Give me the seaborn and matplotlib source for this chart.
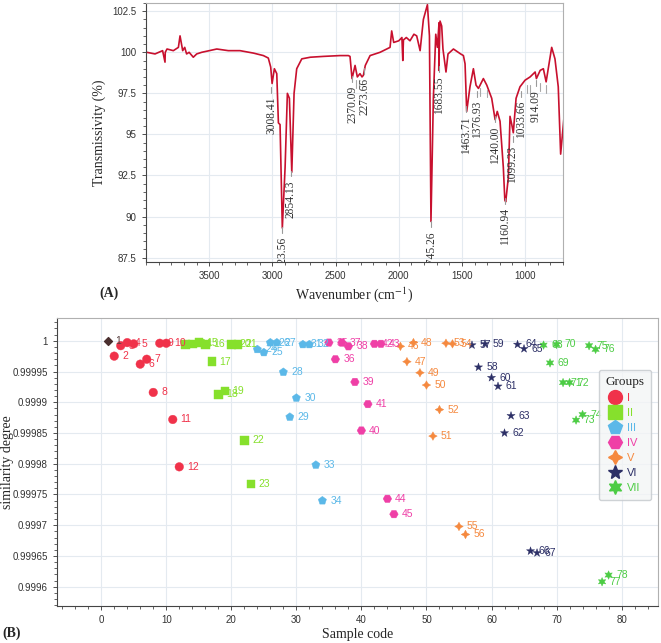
import numpy as np
import pandas as pd
import matplotlib
matplotlib.use("Agg")
import matplotlib.pyplot as plt
import seaborn as sns
from matplotlib.lines import Line2D
from matplotlib.ticker import MultipleLocator, FuncFormatter

# ---- (A) FTIR spectrum ----
wavenumber = [3996, 3930, 3870, 3851, 3849, 3835, 3785, 3745, 3732, 3711, 3695, 3680,
              3660, 3627, 3600, 3560, 3500, 3441, 3350, 3257, 3150, 3072, 3033, 3014,
              3003, 2985, 2966, 2953, 2940, 2922, 2900, 2882, 2866, 2847, 2829, 2808,
              2768, 2700, 2597, 2465, 2399, 2386, 2370, 2346, 2328, 2307, 2291, 2280,
              2265, 2227, 2148, 2069, 2056, 2040, 2000, 1975, 1968, 1963, 1940, 1911,
              1880, 1858, 1831, 1805, 1773, 1757, 1745, 1726, 1707, 1694, 1681, 1683,
              1673, 1660, 1650, 1626, 1610, 1567, 1510, 1488, 1475, 1462, 1436, 1409,
              1388, 1369, 1330, 1303, 1264, 1237, 1220, 1198, 1172, 1160, 1153, 1132,
              1119, 1105, 1093, 1071, 1040, 1000, 960, 920, 910, 880, 855, 833, 810,
              789, 763, 737, 718, 692]
transmissivity = [100.0, 99.9, 100.1, 99.4, 100.0, 100.2, 100.1, 100.3, 101.0, 100.1, 100.3, 99.9,
                  100.0, 99.7, 99.9, 100.0, 100.1, 100.2, 100.1, 100.1, 99.95, 99.8, 99.65, 99.1,
                  98.1, 99.0, 98.7, 95.7, 95.6, 89.3, 93.0, 97.5, 97.2, 92.7, 97.5, 99.0,
                  99.6, 99.7, 99.75, 99.8, 99.8, 99.75, 98.4, 99.2, 98.5, 98.7, 98.5, 98.6,
                  99.2, 99.8, 100.0, 100.3, 101.3, 100.6, 100.7, 100.9, 99.5, 100.75, 100.9, 100.7,
                  101.1, 101.0, 100.1, 102.0, 102.9, 101.0, 89.7, 97.2, 101.1, 100.3, 101.8, 98.9,
                  101.9, 101.6, 100.2, 98.8, 99.9, 100.2, 99.9, 99.8, 99.3, 96.4, 97.9, 99.0,
                  98.0, 97.8, 98.4, 98.0, 97.2, 95.9, 96.4, 95.8, 93.0, 91.0, 90.9, 92.4,
                  96.1, 95.6, 95.1, 97.2, 97.9, 98.3, 98.5, 98.8, 98.4, 98.9, 99.0, 98.2, 99.3,
                  100.3, 99.6, 97.9, 93.8, 96.0]

peak_wn = [3008.41, 2923.56, 2854.13, 2370.09, 2273.66, 1745.26, 1683.55,
           1463.71, 1376.93, 1240.00, 1160.94, 1099.23, 1033.66, 914.09]
peak_label_top = [97.3, 88.75, 92.2, 97.95, 98.45, 89.1, 98.55,
                  96.1, 97.05, 95.5, 90.5, 94.3, 97.05, 97.7]
minor_wn = [2336, 2313, 1356, 1303, 986, 960, 881, 833]
minor_dash_top = [98.3, 98.3, 97.8, 97.7, 98.0, 98.0, 98.1, 98.0]

# ---- (B) similarity degree per sample ----
group_names = ["I", "II", "III", "IV", "V", "VI", "VII"]
group_colors = ["#f0324a", "#86e02c", "#5bb8e8", "#ef3fa6", "#f5893f", "#2c2f66", "#4ccc44"]
group_markers = ["o", "s", "p", "H", (4, 1, 0), "*", (6, 1, 0)]

ref_code = [1]
ref_sim = [1.0]
codes_I = list(range(2, 13))
sim_I = [0.999975, 0.999992, 0.999997, 0.999995, 0.999962, 0.999970, 0.999916,
         0.999996, 0.999996, 0.999872, 0.999795]
codes_II = list(range(13, 24))
sim_II = [0.999994, 0.999995, 0.999997, 0.999994, 0.999966, 0.999913, 0.999918,
          0.999994, 0.999994, 0.999838, 0.999767]
codes_III = list(range(24, 35))
sim_III = [0.999986, 0.999981, 0.999997, 0.999997, 0.999949, 0.999876, 0.999907,
           0.999994, 0.999994, 0.999798, 0.999740]
codes_IV = list(range(35, 46))
sim_IV = [0.999997, 0.999970, 0.999997, 0.999991, 0.999933, 0.999854, 0.999897,
          0.999995, 0.999995, 0.999743, 0.999718]
codes_V = list(range(46, 57))
sim_V = [0.999991, 0.999966, 0.999997, 0.999948, 0.999928, 0.999845, 0.999888,
         0.999996, 0.999995, 0.999698, 0.999685]
codes_VI = list(range(57, 68))
sim_VI = [0.999993, 0.999957, 0.999995, 0.999940, 0.999926, 0.999850, 0.999878,
          0.999994, 0.999987, 0.999658, 0.999655]
codes_VII = list(range(68, 79))
sim_VII = [0.999993, 0.999964, 0.999994, 0.999932, 0.999932, 0.999871, 0.999880,
           0.999992, 0.999986, 0.999608, 0.999619]

all_codes = [codes_I, codes_II, codes_III, codes_IV, codes_V, codes_VI, codes_VII]
all_sims = [sim_I, sim_II, sim_III, sim_IV, sim_V, sim_VI, sim_VII]

rows = []
for name, cs, ss in zip(group_names, all_codes, all_sims):
    for c, s in zip(cs, ss):
        rows.append({"code": c, "sim": s, "group": name})
df = pd.DataFrame(rows)

sns.set_style("ticks")
plt.rcParams["font.family"] = ["Liberation Sans", "DejaVu Sans"]
plt.rcParams["mathtext.fontset"] = "stix"
serif = ["Liberation Serif", "DejaVu Serif"]
grid_col = "#e4eaf0"

fig = plt.figure(figsize=(6.61, 6.43), dpi=100)
ax1 = fig.add_axes([0.2204, 0.593, 0.6318, 0.4023])
ax2 = fig.add_axes([0.0862, 0.0575, 0.9093, 0.4479])

# ---- panel A ----
sns.lineplot(x=wavenumber, y=transmissivity, sort=False, estimator=None,
             color="#c8102e", lw=1.2, ax=ax1)
for wn, top in zip(peak_wn, peak_label_top):
    ax1.plot([wn, wn], [top + 0.25, top + 0.6], color="#9a9a9a", lw=0.8)
    ax1.text(wn, top, f"{wn:.2f}", rotation=90, ha="center", va="top",
             fontsize=8.3, family=serif, color="#333333", clip_on=True)
for wn, top in zip(minor_wn, minor_dash_top):
    ax1.plot([wn, wn], [top - 0.45, top], color="#a8a8a8", lw=0.8)

ax1.set_xlim(4004, 697)
ax1.set_ylim(87.25, 103.0)
ax1.set_yticks([87.5, 90, 92.5, 95, 97.5, 100, 102.5])
ax1.yaxis.set_major_formatter(FuncFormatter(lambda v, p: f"{v:g}"))
ax1.set_xticks([3500, 3000, 2500, 2000, 1500, 1000])
ax1.xaxis.set_minor_locator(MultipleLocator(100))
ax1.yaxis.set_minor_locator(MultipleLocator(0.5))
ax1.grid(True, which="major", color=grid_col, lw=0.8)
ax1.set_axisbelow(True)
ax1.tick_params(labelsize=7, length=3, width=0.6, colors="#333333")
ax1.tick_params(which="minor", length=2, width=0.5)
for side in ["top", "right"]:
    ax1.spines[side].set_visible(True)
    ax1.spines[side].set_color("#b0b0b0")
for side in ["left", "bottom"]:
    ax1.spines[side].set_color("#444444")
ax1.set_ylabel("Transmissivity (%)", family=serif, fontsize=10)
ax1.yaxis.set_label_coords(-0.095, 0.5)
ax1.set_xlabel("Wavenumber (cm$^{-1}$)", family=serif, fontsize=10)
ax1.xaxis.set_label_coords(0.5, -0.09)

# ---- panel B ----
sns.scatterplot(data=df, x="code", y="sim", hue="group", style="group",
                hue_order=group_names, style_order=group_names,
                palette=dict(zip(group_names, group_colors)),
                markers=dict(zip(group_names, group_markers)),
                s=38, edgecolor="face", linewidth=0.3, legend=False, ax=ax2)
ax2.scatter(ref_code, ref_sim, marker="D", s=16, color="#4a2f2f", zorder=3)
ax2.text(ref_code[0] + 1.1, ref_sim[0], "1", fontsize=7.5, color="#5a4040", va="center")
for name, color, cs, ss in zip(group_names, group_colors, all_codes, all_sims):
    for c, s in zip(cs, ss):
        ax2.text(c + 1.2, s, str(c), fontsize=7.5, color=color, va="center")

ax2.set_xlim(-6.8, 85.6)
ax2.set_ylim(0.9995686, 1.000037)
ax2.set_xticks(range(0, 90, 10))
ax2.set_yticks([0.9996, 0.99965, 0.9997, 0.99975, 0.9998, 0.99985, 0.9999, 0.99995, 1.0])
ax2.yaxis.set_major_formatter(FuncFormatter(lambda v, p: f"{round(v, 5):g}"))
ax2.xaxis.set_minor_locator(MultipleLocator(2))
ax2.yaxis.set_minor_locator(MultipleLocator(0.00001))
ax2.grid(True, which="major", color=grid_col, lw=0.8)
ax2.set_axisbelow(True)
ax2.tick_params(labelsize=7, length=3, width=0.6, colors="#333333")
ax2.tick_params(which="minor", length=2, width=0.5)
for side in ["top", "right"]:
    ax2.spines[side].set_visible(True)
    ax2.spines[side].set_color("#b0b0b0")
for side in ["left", "bottom"]:
    ax2.spines[side].set_color("#444444")
ax2.set_ylabel("similarity degree", family=serif, fontsize=10)
ax2.yaxis.set_label_coords(-0.0715, 0.5)
ax2.set_xlabel("Sample code", family=serif, fontsize=10)
ax2.xaxis.set_label_coords(0.5, -0.075)

handles = [Line2D([], [], linestyle="", marker=m, color=c, markersize=10)
           for m, c in zip(group_markers, group_colors)]
leg = ax2.legend(handles, group_names, title="Groups", loc="upper right",
                 bbox_to_anchor=(0.998, 0.84), fontsize=8, frameon=True,
                 fancybox=True, facecolor="#f3f5f6", edgecolor="#c4c8cc",
                 handlelength=1.0, handletextpad=0.6, labelspacing=0.45,
                 borderpad=0.6)
leg.get_title().set_fontfamily(serif)
leg.get_title().set_fontsize(9.5)
for t, c in zip(leg.get_texts(), group_colors):
    t.set_color(c)

fig.text(0.151, 0.544, "(A)", family=serif, fontsize=10, fontweight="bold", va="center")
fig.text(0.003, 0.015, "(B)", family=serif, fontsize=10, fontweight="bold", va="center")

fig.savefig("out.png", dpi=100)
